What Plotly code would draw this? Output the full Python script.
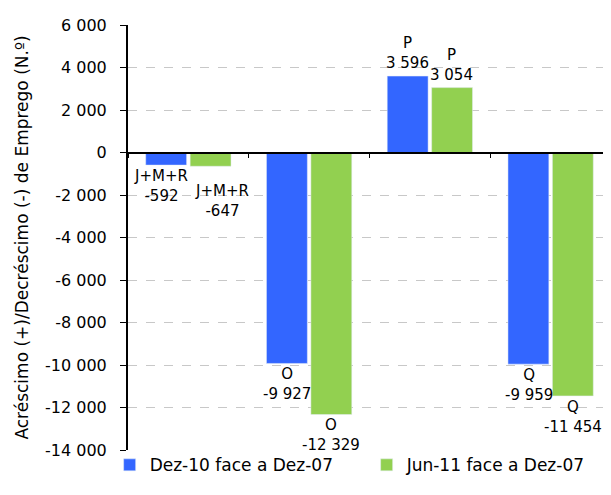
import plotly.graph_objects as go

categories = ["J+M+R", "O", "P", "Q"]
series_names = ["Dez-10 face a Dez-07", "Jun-11 face a Dez-07"]
dez10 = [-592, -9927, 3596, -9959]
jun11 = [-647, -12329, 3054, -11454]
colors = ["#3366ff", "#92d050"]

tick_vals = [6000, 4000, 2000, 0, -2000, -4000, -6000, -8000, -10000, -12000, -14000]
tick_text = ["6 000", "4 000", "2 000", "0", "-2 000", "-4 000", "-6 000", "-8 000",
             "-10 000", "-12 000", "-14 000"]


def fmt(v):
    s = f"{abs(v):,}".replace(",", " ")
    return ("-" if v < 0 else "") + s


FONT = "DejaVu Sans"
fig = go.Figure()
for name, vals, col in zip(series_names, [dez10, jun11], colors):
    fig.add_trace(go.Bar(x=categories, y=vals, name=name, marker_color=col))

# data labels (category + value), nudged like the original where they would collide
series_shift = [-22, 22]
label_nudge = {(0, "J+M+R"): (-5, 0), (1, "J+M+R"): (12, -14)}
annotations = []
for i, vals in enumerate([dez10, jun11]):
    for c, v in zip(categories, vals):
        dx, dy = label_nudge.get((i, c), (0, 0))
        neg = v < 0
        annotations.append(dict(
            x=c, y=v, xref="x", yref="y", showarrow=False,
            text=f"{c}<br>{fmt(v)}",
            xanchor="center", yanchor="top" if neg else "bottom",
            xshift=series_shift[i] + dx, yshift=(0 if neg else 2) + dy,
            font=dict(family=FONT, size=15, color="black"),
        ))

# the page adds an 8px body margin, so the figure is 8px smaller on each side
fig.update_layout(
    width=603, height=487,
    margin=dict(l=120, r=0, t=17, b=45, autoexpand=False),
    paper_bgcolor="white", plot_bgcolor="white",
    barmode="group", bargap=0.264, bargroupgap=0.08,
    font=dict(family=FONT, size=15, color="black"),
    annotations=annotations,
    showlegend=True,
    legend=dict(orientation="h", x=-0.038, xanchor="left", y=-0.036, yanchor="middle",
                font=dict(family=FONT, size=17, color="black"),
                entrywidth=212, entrywidthmode="pixels", itemwidth=30,
                bgcolor="rgba(0,0,0,0)"),
    xaxis=dict(anchor="free", position=0.7, showline=True, linecolor="black",
               linewidth=2, ticks="outside", tickson="boundaries", ticklen=4,
               tickcolor="black", showticklabels=False, showgrid=False),
    yaxis=dict(range=[-14000, 6000], tickvals=tick_vals, ticktext=tick_text,
               showline=True, linecolor="black", linewidth=2, ticks="outside",
               ticklen=6, tickcolor="black", ticklabelstandoff=10,
               showgrid=True, gridcolor="#c8c8c8",
               griddash="dash", gridwidth=1, zeroline=False,
               tickfont=dict(family=FONT, size=16, color="black"),
               title=dict(text="Acréscimo (+)/Decréscimo (-) de Emprego (N.º)",
                          font=dict(family=FONT, size=17, color="black"),
                          standoff=12)),
)
fig.write_html("out.html")
